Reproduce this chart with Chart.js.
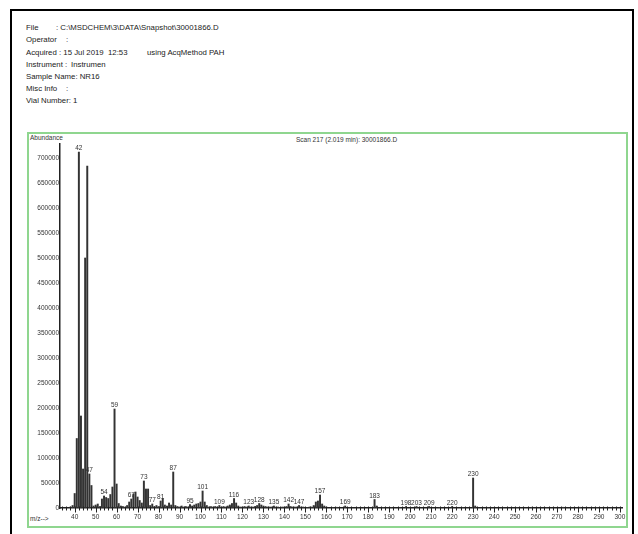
<!DOCTYPE html>
<html>
<head>
<meta charset="utf-8">
<script src="https://cdn.jsdelivr.net/npm/chart.js@4.4.1/dist/chart.umd.min.js"></script>
<style>
  html, body { margin: 0; padding: 0; background: #fff; }
  body { width: 638px; height: 534px; position: relative; overflow: hidden; }
  #frame { position: absolute; left: 10px; top: 9px; width: 620px; height: 600px; border: 2px solid #000; }
  .hdr { position: absolute; left: 26px; font: 7.8px "Liberation Sans", Arial, sans-serif; color: #222; white-space: pre; line-height: 10px; }
  #plotbox { position: absolute; left: 27px; top: 132px; width: 597px; height: 392px; border: 2px solid #8fd68f; }
  .small { position: absolute; font: 6.5px "Liberation Sans Narrow", "Arial Narrow", sans-serif; color: #333; white-space: pre; line-height: 8px; }
  canvas { position: absolute; left: 0; top: 0; }
</style>
</head>
<body>
<div id="frame"></div>
<div class="hdr" style="top:23px">File</div>
<div class="hdr" style="top:23px;left:56px">: C:\MSDCHEM\3\DATA\Snapshot\30001866.D</div>
<div class="hdr" style="top:35px">Operator</div>
<div class="hdr" style="top:35px;left:66px">:</div>
<div class="hdr" style="top:48px">Acquired</div>
<div class="hdr" style="top:48px;left:59px">: 15 Jul 2019  12:53</div>
<div class="hdr" style="top:48px;left:147px">using AcqMethod PAH</div>
<div class="hdr" style="top:60px">Instrument :</div>
<div class="hdr" style="top:60px;left:71px">Instrumen</div>
<div class="hdr" style="top:72px">Sample Name: NR16</div>
<div class="hdr" style="top:84px">Misc Info</div>
<div class="hdr" style="top:84px;left:66px">:</div>
<div class="hdr" style="top:96px">Vial Number: 1</div>
<div id="plotbox"></div>
<div class="small" style="left:30px;top:134px">Abundance</div>
<div class="small" style="left:296px;top:136px">Scan 217 (2.019 min): 30001866.D</div>
<div class="small" style="left:30px;top:515px">m/z--&gt;</div>
<canvas id="c" width="638" height="534"></canvas>
<script>
// m/z of each ion in the scan and its abundance
const mzValues = [
  38, 39, 40, 41, 42, 43, 44, 45, 46, 47, 48, 49, 50, 51, 52, 53, 54, 55, 56, 57,
  58, 59, 60, 61, 62, 63, 64, 65, 66, 67, 68, 69, 70, 71, 72, 73, 74, 75, 76, 77,
  78, 79, 80, 81, 82, 83, 84, 85, 86, 87, 88, 89, 90, 91, 92, 93, 94, 95, 96, 97,
  98, 99, 100, 101, 102, 103, 104, 105, 106, 107, 108, 109, 110, 111, 112, 113, 114, 115, 116, 117,
  118, 119, 120, 121, 122, 123, 124, 125, 126, 127, 128, 129, 130, 131, 132, 133, 134, 135, 136, 137,
  138, 139, 140, 141, 142, 143, 144, 145, 146, 147, 148, 149, 150, 151, 152, 153, 154, 155, 156, 157,
  158, 159, 160, 163, 165, 169, 171, 175, 178, 183, 184, 187, 191, 195, 198, 203, 209, 214, 220, 225,
  230, 231, 237, 244, 251, 258, 265, 273, 281, 289, 296
];
const abundance = [
  2000, 5000, 29000, 139000, 712000, 184000, 78000, 500000, 684000, 68000, 45000, 4000, 6000, 8000, 3000, 18000, 24000, 21000, 19000, 27000,
  42000, 198000, 48000, 9000, 4000, 3000, 2000, 5000, 12000, 18000, 28000, 32000, 22000, 15000, 10000, 54000, 38000, 38000, 5000, 8000,
  3000, 5000, 3000, 14000, 19000, 6000, 4000, 10000, 6000, 72000, 5000, 3000, 2000, 4000, 2000, 3000, 2000, 7000, 4000, 6000,
  8000, 9000, 12000, 34000, 12000, 5000, 2000, 3000, 2000, 3000, 2000, 5000, 2000, 3000, 2000, 4000, 6000, 9000, 19000, 10000,
  4000, 2000, 2000, 3000, 2000, 4000, 2000, 2000, 3000, 5000, 9000, 6000, 4000, 3000, 2000, 2000, 2000, 4000, 2000, 2000,
  1000, 2000, 2000, 3000, 8000, 3000, 2000, 2000, 2000, 5000, 2000, 2000, 1000, 1000, 2000, 2000, 5000, 12000, 14000, 26000,
  8000, 4000, 2000, 1000, 1500, 4000, 1000, 1000, 1000, 17000, 4000, 1000, 1000, 1000, 3000, 3000, 3000, 1000, 3000, 1000,
  60000, 4000, 1000, 1000, 1000, 1500, 1000, 1500, 1500, 1000, 1000
];
// ions that carry their m/z above the stick
const labelledPeaks = [42, 47, 54, 59, 67, 73, 77, 81, 87, 95, 101, 109, 116, 123, 128, 135, 142, 147, 157, 169, 183, 198, 203, 209, 220, 230];
// axis tick labels
const xTickLabels = [40, 50, 60, 70, 80, 90, 100, 110, 120, 130, 140, 150, 160, 170, 180, 190, 200, 210, 220, 230, 240, 250, 260, 270, 280, 290, 300];
const yTickLabels = [0, 50000, 100000, 150000, 200000, 250000, 300000, 350000, 400000, 450000, 500000, 550000, 600000, 650000, 700000];

const smallFont = { family: '"Liberation Sans Narrow", "Arial Narrow", sans-serif', size: 6.5 };

// minor/major tick marks along the m/z axis
const mzAxisTicks = {
  id: 'mzAxisTicks',
  afterDraw(chart) {
    const { ctx, scales: { x, y } } = chart;
    const y0 = y.getPixelForValue(0);
    ctx.save();
    ctx.strokeStyle = '#222';
    ctx.lineWidth = 1;
    for (let m = 34; m <= 300; m += 2) {
      const px = Math.round(x.getPixelForValue(m)) + 0.5;
      ctx.beginPath();
      ctx.moveTo(px, y0 - 1.5);
      ctx.lineTo(px, y0 + (m % 10 === 0 ? 4.5 : 2.5));
      ctx.stroke();
    }
    ctx.restore();
  }
};

// m/z labels over the labelled sticks
const peakLabels = {
  id: 'peakLabels',
  afterDatasetsDraw(chart) {
    const { ctx } = chart;
    const meta = chart.getDatasetMeta(0);
    ctx.save();
    ctx.font = `${smallFont.size}px ${smallFont.family}`;
    ctx.fillStyle = '#333';
    ctx.textAlign = 'center';
    ctx.textBaseline = 'bottom';
    labelledPeaks.forEach(m => {
      const el = meta.data[mzValues.indexOf(m)];
      ctx.fillText(String(m), el.x, el.y - 0.5);
    });
    ctx.restore();
  }
};

new Chart(document.getElementById('c'), {
  type: 'bar',
  data: {
    datasets: [{
      data: mzValues.map((m, i) => ({ x: m, y: abundance[i] })),
      backgroundColor: '#333333',
      borderWidth: 0,
      barThickness: 1.3
    }]
  },
  options: {
    responsive: false,
    animation: false,
    events: [],
    layout: { padding: { left: 0, right: 16, top: 144, bottom: 0 } },
    plugins: { legend: { display: false }, tooltip: { enabled: false } },
    scales: {
      x: {
        type: 'linear',
        min: 33,
        max: 301,
        offset: false,
        grid: { display: false, drawTicks: false },
        border: { display: true, color: '#222', width: 1.5 },
        afterBuildTicks: s => { s.ticks = xTickLabels.map(v => ({ value: v })); },
        ticks: { autoSkip: false, maxRotation: 0, font: smallFont, color: '#333', padding: 5 },
        afterFit: s => { s.height = 26; }
      },
      y: {
        min: 0,
        max: 728000,
        grid: { display: false, drawTicks: false },
        border: { display: true, color: '#222', width: 1.5 },
        afterBuildTicks: s => { s.ticks = yTickLabels.map(v => ({ value: v })); },
        ticks: { font: smallFont, color: '#333', padding: 1, callback: v => String(v) },
        afterFit: s => { s.width = 60; }
      }
    }
  },
  plugins: [mzAxisTicks, peakLabels]
});
</script>
</body>
</html>
